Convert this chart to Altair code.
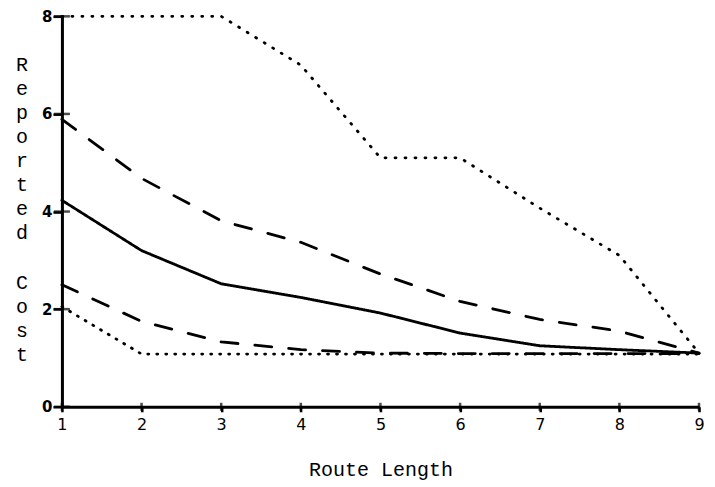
import altair as alt
import pandas as pd

route_length = [1, 2, 3, 4, 5, 6, 7, 8, 9]
max_cost = [8.0, 8.0, 8.0, 7.0, 5.1, 5.1, 4.07, 3.1, 1.1]
upper_cost = [5.89, 4.68, 3.81, 3.37, 2.72, 2.16, 1.79, 1.55, 1.1]
mean_cost = [4.23, 3.2, 2.52, 2.24, 1.92, 1.51, 1.25, 1.17, 1.1]
lower_cost = [2.5, 1.75, 1.33, 1.17, 1.1, 1.09, 1.09, 1.09, 1.09]
min_cost = [2.05, 1.08, 1.08, 1.08, 1.08, 1.08, 1.08, 1.08, 1.08]

series_names = ["max", "upper", "mean", "lower", "min"]
series_vals = [max_cost, upper_cost, mean_cost, lower_cost, min_cost]
x_ticks = [1, 2, 3, 4, 5, 6, 7, 8, 9]
y_ticks = [0, 2, 4, 6, 8]
y_title_words = ["Reported", "Cost"]

rows = []
for name, vals in zip(series_names, series_vals):
    for x, v in zip(route_length, vals):
        rows.append({"series": name, "x": x, "y": v})
df = pd.DataFrame(rows)

xs = alt.Scale(domain=[1, 9], nice=False, zero=False)
ys = alt.Scale(domain=[0, 8], nice=False)

title_font = "Liberation Mono"
label_font = "DejaVu Sans"

x_axis = alt.Axis(values=x_ticks, format="d", title="Route Length", titleFont=title_font,
                  titleFontSize=20, titleFontWeight="normal", titlePadding=27,
                  labelFont=label_font, labelFontSize=16, labelPadding=5, labelFlush=False,
                  tickSize=5, tickWidth=2.5, tickColor="black",
                  domainColor="black", domainWidth=3, grid=False, labelColor="black",
                  titleColor="black")
y_axis = alt.Axis(values=y_ticks, format="d", title=None,
                  labelFont=label_font, labelFontSize=15, labelFontWeight="bold",
                  labelPadding=1, labelFlush=False,
                  tickSize=9, tickWidth=2.5, tickColor="black",
                  domainColor="black", domainWidth=3, grid=False, labelColor="black")

lines = alt.Chart(df).mark_line(color="black", strokeWidth=2.8, strokeCap="round").encode(
    x=alt.X("x:Q", scale=xs, axis=x_axis),
    y=alt.Y("y:Q", scale=ys, axis=y_axis),
    detail="series:N",
    strokeDash=alt.StrokeDash("series:N", legend=None,
                              scale=alt.Scale(domain=series_names,
                                              range=[[1, 9], [17, 17], [1, 0], [17, 17], [1, 8]])),
)

xt = alt.Chart(pd.DataFrame({"x": x_ticks})).mark_tick(
    orient="vertical", color="black", size=8, thickness=2.5).encode(
    x=alt.X("x:Q", scale=xs), y=alt.value(391))
yt = alt.Chart(pd.DataFrame({"y": y_ticks})).mark_tick(
    orient="horizontal", color="black", size=16, thickness=2.5).encode(
    y=alt.Y("y:Q", scale=ys), x=alt.value(0))

title_top = alt.Chart(pd.DataFrame({"t": ["\n".join(y_title_words[0])]})).mark_text(
    font=title_font, fontSize=20, color="black", lineBreak="\n", lineHeight=24,
    align="center", baseline="middle").encode(
    text="t:N", x=alt.value(-40), y=alt.value(49))
title_bot = alt.Chart(pd.DataFrame({"t": ["\n".join(y_title_words[1])]})).mark_text(
    font=title_font, fontSize=20, color="black", lineBreak="\n", lineHeight=24,
    align="center", baseline="middle").encode(
    text="t:N", x=alt.value(-40), y=alt.value(267))

chart = alt.layer(lines, xt, yt, title_top, title_bot).properties(
    width=638, height=391,
    autosize=alt.AutoSizeParams(type="none"),
    padding={"left": 54, "top": 8, "right": 8, "bottom": 80},
    background="white",
).configure_view(strokeWidth=0, stroke="transparent")

chart.save("out.html", embed_options={"renderer": "svg", "actions": False})
